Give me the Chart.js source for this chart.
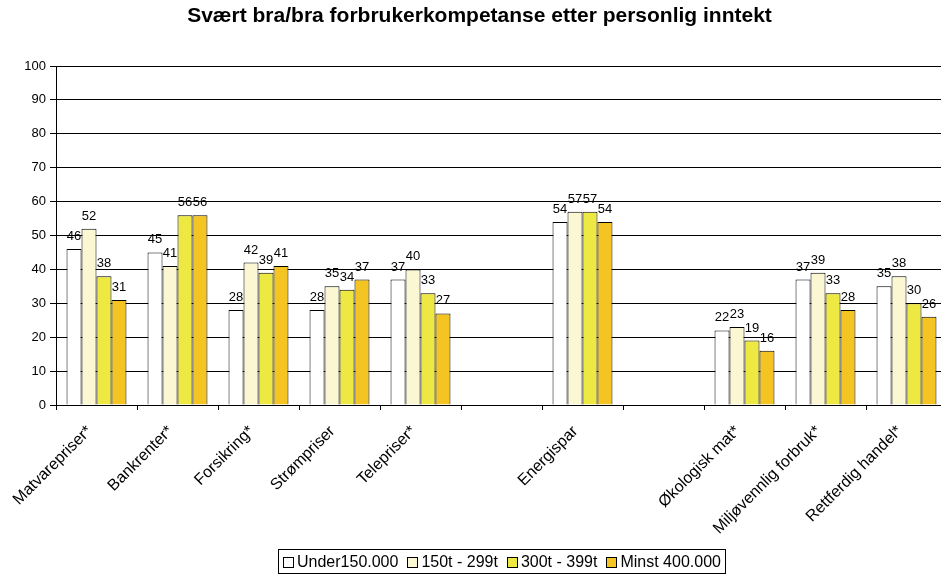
<!DOCTYPE html>
<html>
<head>
<meta charset="utf-8">
<script src="https://cdn.jsdelivr.net/npm/chart.js@4.4.1/dist/chart.umd.min.js"></script>
<style>
  html, body { margin: 0; padding: 0; background: #fff; overflow: hidden; }
  #wrap { width: 950px; height: 577px; }
</style>
</head>
<body>
<div id="wrap"><canvas id="chart" width="950" height="577"></canvas></div>
<script>
const TITLE = 'Svært bra/bra forbrukerkompetanse etter personlig inntekt';

const categories = [
  'Matvarepriser*', 'Bankrenter*', 'Forsikring*', 'Strømpriser', 'Telepriser*', '',
  'Energispar', '', 'Økologisk mat*', 'Miljøvennlig forbruk*', 'Rettferdig handel*'
];

const seriesNames = ['Under150.000', '150t - 299t', '300t - 399t', 'Minst 400.000'];
const seriesColors = ['#ffffff', '#fbf7d2', '#ede942', '#f4c422'];

const under150 = [46, 45, 28, 28, 37, null, 54, null, 22, 37, 35];
const from150 = [52, 41, 42, 35, 40, null, 57, null, 23, 39, 38];
const from300 = [38, 56, 39, 34, 33, null, 57, null, 19, 33, 30];
const minst400 = [31, 56, 41, 37, 27, null, 54, null, 16, 28, 26];

const yTicks = [0, 10, 20, 30, 40, 50, 60, 70, 80, 90, 100];

const FONT = "'Liberation Sans', Arial, sans-serif";

// title across the top of the page
const titlePlugin = {
  id: 'pageTitle',
  afterDraw(chart) {
    const ctx = chart.ctx;
    ctx.save();
    ctx.font = 'bold 21px ' + FONT;
    ctx.fillStyle = '#000';
    ctx.textAlign = 'center';
    ctx.textBaseline = 'alphabetic';
    ctx.fillText(TITLE, 479.5, 22);
    ctx.restore();
  }
};

// numbers above each bar
const valueLabels = {
  id: 'valueLabels',
  afterDatasetsDraw(chart) {
    const ctx = chart.ctx;
    ctx.save();
    ctx.font = '13px ' + FONT;
    ctx.fillStyle = '#000';
    ctx.textAlign = 'center';
    ctx.textBaseline = 'alphabetic';
    chart.data.datasets.forEach((ds, i) => {
      const meta = chart.getDatasetMeta(i);
      meta.data.forEach((bar, j) => {
        const v = ds.data[j];
        if (v === null || v === undefined) return;
        ctx.fillText(String(v), bar.x, bar.y - 9);
      });
    });
    ctx.restore();
  }
};

// boxed legend under the axis, centred on the plot
const boxLegend = {
  id: 'boxLegend',
  afterDraw(chart) {
    const ctx = chart.ctx;
    const area = chart.chartArea;
    const sets = chart.data.datasets;
    ctx.save();
    ctx.font = '16px ' + FONT;
    const widths = sets.map(ds => ctx.measureText(ds.label).width);
    const content = widths.reduce((s, w) => s + 14 + w, 0) + 9 * (sets.length - 1);
    const frameW = Math.round(content + 9);
    const frameX = Math.round((area.left + area.right) / 2 - frameW / 2);
    const frameY = 549;
    ctx.strokeStyle = '#000';
    ctx.lineWidth = 1;
    ctx.strokeRect(frameX + 0.5, frameY + 0.5, frameW, 24);

    let x = frameX + 5;
    ctx.textBaseline = 'middle';
    ctx.textAlign = 'left';
    sets.forEach((ds, i) => {
      ctx.fillStyle = ds.backgroundColor;
      ctx.fillRect(Math.round(x) + 0.5, 557.5, 10, 10);
      ctx.strokeRect(Math.round(x) + 0.5, 557.5, 10, 10);
      ctx.fillStyle = '#000';
      ctx.fillText(ds.label, x + 14, 562.5);
      x += 14 + widths[i] + 9;
    });
    ctx.restore();
  }
};

const datasets = [under150, from150, from300, minst400].map((data, i) => ({
  label: seriesNames[i],
  data: data,
  backgroundColor: seriesColors[i],
  borderColor: '#000',
  borderWidth: 1,
  barPercentage: 1.0,
  categoryPercentage: 0.74
}));

new Chart(document.getElementById('chart'), {
  type: 'bar',
  data: { labels: categories, datasets: datasets },
  options: {
    responsive: false,
    animation: false,
    layout: { padding: { top: 66, right: 3, bottom: 37, left: 0 } },
    plugins: {
      title: { display: false },
      tooltip: { enabled: false },
      legend: { display: false }
    },
    scales: {
      x: {
        grid: {
          display: true,
          drawOnChartArea: false,
          drawTicks: true,
          tickLength: 5,
          color: '#000'
        },
        border: { display: true, color: '#000', width: 1 },
        ticks: {
          color: '#000',
          font: { family: FONT, size: 16 },
          minRotation: 45,
          maxRotation: 45,
          autoSkip: false,
          padding: 12,
          labelOffset: -7
        },
        afterFit(scale) { scale.height = 135; }
      },
      y: {
        min: 0,
        max: 100,
        afterBuildTicks(scale) { scale.ticks = yTicks.map(v => ({ value: v })); },
        grid: { color: '#000', tickLength: 6, lineWidth: 1 },
        border: { display: true, color: '#000', width: 1 },
        ticks: {
          color: '#000',
          font: { family: FONT, size: 13 },
          padding: 4
        },
        afterFit(scale) { scale.width = 56; }
      }
    }
  },
  plugins: [titlePlugin, valueLabels, boxLegend]
});
</script>
</body>
</html>
